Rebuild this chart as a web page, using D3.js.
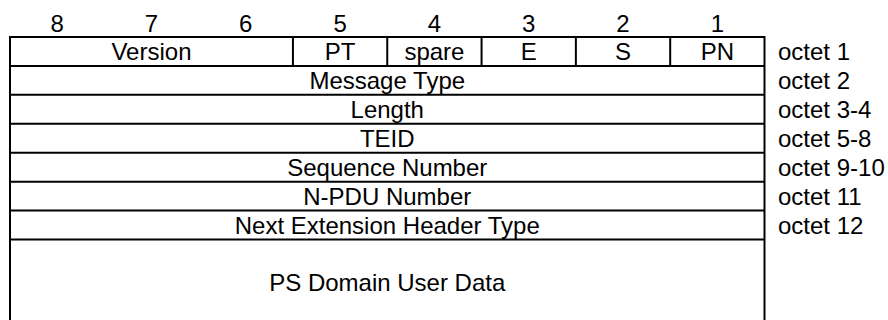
<!DOCTYPE html>
<html>
<head>
<meta charset="utf-8">
<script src="https://cdn.jsdelivr.net/npm/d3@7"></script>
<style>
  html, body { margin: 0; padding: 0; background: #fff; }
  svg { display: block; }
  text { font-family: "Liberation Sans", Arial, sans-serif; fill: #000; }
</style>
</head>
<body>
<svg id="chart" width="888" height="320"></svg>
<script>
// ---- data ----
const bitLabels = ["8", "7", "6", "5", "4", "3", "2", "1"];
const firstOctetFields = ["Version", "PT", "spare", "E", "S", "PN"];
const firstOctetSpans = [3, 1, 1, 1, 1, 1];
const rowFields = ["Message Type", "Length", "TEID", "Sequence Number", "N-PDU Number", "Next Extension Header Type"];
const octetLabels = ["octet 1", "octet 2", "octet 3-4", "octet 5-8", "octet 9-10", "octet 11", "octet 12"];
const payloadLabel = "PS Domain User Data";

// ---- layout ----
const svg = d3.select("#chart");
const fontSize = 24;
const x = d3.scaleLinear().domain([0, 8]).range([10, 764.5]);
const y = d3.scaleLinear().domain([0, 7]).range([37, 239.5]);
const bottomY = 325;
const capOff = fontSize * 0.716 / 2;

const g = svg.append("g");

// bit numbers
g.selectAll("text.bit").data(bitLabels).join("text")
  .attr("class", "bit")
  .attr("x", (d, i) => x(i + 0.5))
  .attr("y", 31.5)
  .attr("text-anchor", "middle")
  .attr("font-size", fontSize)
  .text(d => d);

// horizontal lines (top + row separators)
g.selectAll("line.h").data(d3.range(0, 8)).join("line")
  .attr("class", "h")
  .attr("x1", x(0)).attr("x2", x(8))
  .attr("y1", d => y(d)).attr("y2", d => y(d))
  .attr("stroke", "#000").attr("stroke-width", 2);

// outer vertical lines
g.selectAll("line.v").data([0, 8]).join("line")
  .attr("class", "v")
  .attr("x1", d => x(d)).attr("x2", d => x(d))
  .attr("y1", y(0) - 1).attr("y2", bottomY)
  .attr("stroke", "#000").attr("stroke-width", 2);

// first octet fields
const starts = [];
firstOctetSpans.reduce((acc, s) => { starts.push(acc); return acc + s; }, 0);
const first = firstOctetFields.map((name, i) => ({ name, start: starts[i], span: firstOctetSpans[i] }));

g.selectAll("line.div").data(first.slice(1)).join("line")
  .attr("class", "div")
  .attr("x1", d => x(d.start)).attr("x2", d => x(d.start))
  .attr("y1", y(0)).attr("y2", y(1))
  .attr("stroke", "#000").attr("stroke-width", 2);

g.selectAll("text.f1").data(first).join("text")
  .attr("class", "f1")
  .attr("x", d => x(d.start + d.span / 2))
  .attr("y", y(0.5) + capOff)
  .attr("text-anchor", "middle")
  .attr("font-size", fontSize)
  .text(d => d.name);

// full-width rows
g.selectAll("text.row").data(rowFields).join("text")
  .attr("class", "row")
  .attr("x", x(4))
  .attr("y", (d, i) => y(i + 1.5) + capOff)
  .attr("text-anchor", "middle")
  .attr("font-size", fontSize)
  .text(d => d);

// payload
g.append("text")
  .attr("x", x(4))
  .attr("y", (y(7) + bottomY) / 2 + capOff)
  .attr("text-anchor", "middle")
  .attr("font-size", fontSize)
  .text(payloadLabel);

// octet labels
g.selectAll("text.oct").data(octetLabels).join("text")
  .attr("class", "oct")
  .attr("x", 778)
  .attr("y", (d, i) => y(i + 0.5) + capOff)
  .attr("font-size", fontSize)
  .text(d => d);
</script>
</body>
</html>
